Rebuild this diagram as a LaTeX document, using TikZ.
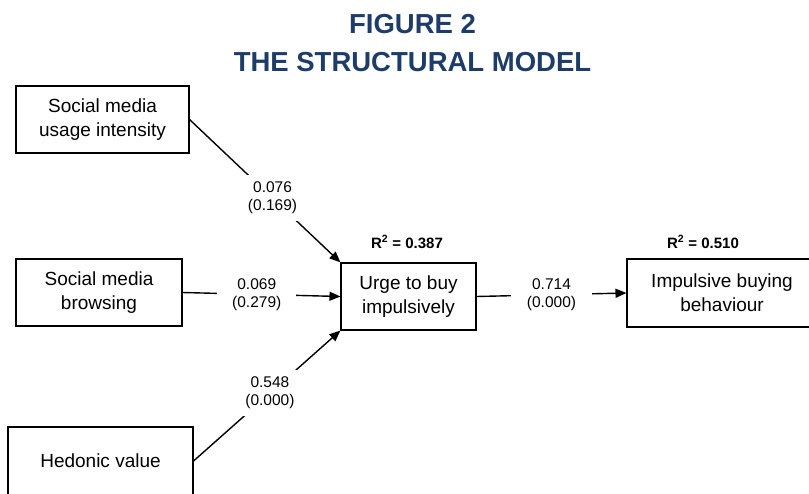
\documentclass[tikz,border=0pt]{standalone}
\usepackage{fontspec}
\setmainfont{Liberation Sans}
\usetikzlibrary{arrows.meta}
\definecolor{navy}{RGB}{29,61,104}
\tikzset{
  box/.style={draw=black, line width=1.1pt, rectangle, align=center, inner sep=0pt,
    font=\fontsize{19}{24}\selectfont},
  conn/.style={line width=1.4pt, -{Triangle[length=11pt,width=9pt]}},
  coef/.style={fill=white, align=center, font=\fontsize{15.5}{18}\selectfont},
  rsq/.style={font=\bfseries\fontsize{15}{18}\selectfont},
  ttl/.style={font=\bfseries\fontsize{27.5}{38}\selectfont, text=navy, align=center}
}
\begin{document}
\begin{tikzpicture}[x=1pt,y=-1pt]
\useasboundingbox (0,0) rectangle (809,493);
\node[ttl] (title) at (412.5,43) {FIGURE 2\\THE STRUCTURAL MODEL};
\node[box, minimum width=173pt, minimum height=67pt] (smui) at (102.5,119.5) {Social media\\usage intensity};
\node[box, minimum width=166pt, minimum height=67pt] (smb) at (99,292.5) {Social media\\browsing};
\node[box, minimum width=185pt, minimum height=68pt] (hed) at (100.5,461) {Hedonic value};
\node[box, minimum width=135pt, minimum height=67pt] (urge) at (408.5,296.5) {Urge to buy\\impulsively};
\node[box, minimum width=190pt, minimum height=68pt] (ibb) at (722,293) {Impulsive buying\\behaviour};
\node[rsq] (r1) at (407,242) {R\textsuperscript{2} = 0.387};
\node[rsq] (r2) at (703,242) {R\textsuperscript{2} = 0.510};
\draw[conn] (smui.east) -- node[coef, pos=0.55, inner xsep=4pt, inner ysep=7pt] {0.076\\(0.169)} (urge.north west);
\draw[conn] (smb.east) -- node[coef, pos=0.47, inner xsep=15pt, inner ysep=3pt] {0.069\\(0.279)} (urge.west);
\draw[conn] (hed.east) -- node[coef, pos=0.52, inner xsep=4pt, inner ysep=7pt] {0.548\\(0.000)} (urge.south west);
\draw[conn] (urge.east) -- node[coef, pos=0.5, inner xsep=16pt, inner ysep=3pt] {0.714\\(0.000)} (ibb.west);
\end{tikzpicture}
\end{document}
